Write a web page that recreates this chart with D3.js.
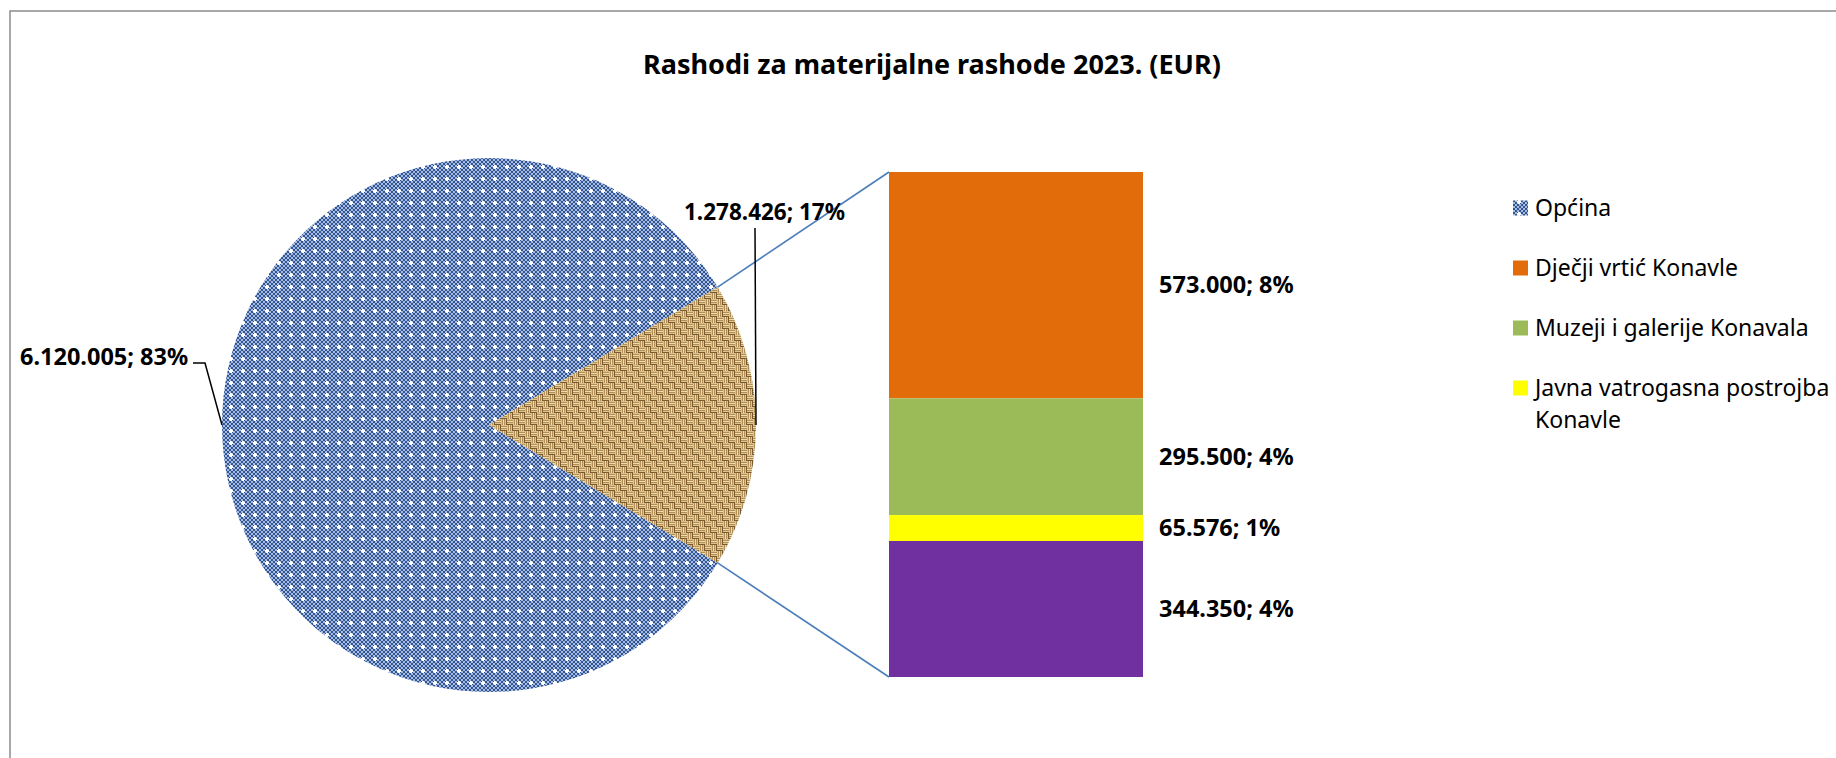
<!DOCTYPE html>
<html>
<head>
<meta charset="utf-8">
<script src="https://cdnjs.cloudflare.com/ajax/libs/d3/7.8.5/d3.min.js"></script>
<style>
  html, body { margin: 0; padding: 0; background: #fff; }
  svg { display: block; font-family: "Noto Sans", "Open Sans", sans-serif; }
</style>
</head>
<body>
<div id="chart"></div>
<script>
// data
const pieNames = ["Općina", "Ostali"];
const pieValues = [6120005, 1278426];
const piePct = [83, 17];

const barNames = ["Dječji vrtić Konavle", "Muzeji i galerije Konavala", "Javna vatrogasna postrojba Konavle", ""];
const barValues = [573000, 295500, 65576, 344350];
const barPct = [8, 4, 1, 4];
const barColors = ["#E36C0A", "#9BBB59", "#FFFF00", "#7030A0"];

const title = "Rashodi za materijalne rashode 2023. (EUR)";

const W = 1836, H = 758;
const hr = d3.formatLocale({decimal: ",", thousands: ".", grouping: [3], currency: ["", ""]});
const fmt = hr.format(",d");

const svg = d3.select("#chart").append("svg")
    .attr("width", W)
    .attr("height", H);

// patterns
const defs = svg.append("defs");

const dots = defs.append("pattern")
    .attr("id", "dots")
    .attr("patternUnits", "userSpaceOnUse")
    .attr("width", 12).attr("height", 12);
dots.append("rect").attr("width", 12).attr("height", 12).attr("fill", "#fff");
for (let i = 0; i < 6; i++) {
    for (let j = 0; j < 6; j++) {
        dots.append("rect").attr("x", i * 2).attr("y", j * 2)
            .attr("width", 2).attr("height", 2)
            .attr("fill", (i + j) % 2 === 0 ? "#2F5597" : "#A9BCDD");
    }
}
dots.append("rect").attr("x", 4).attr("y", 5).attr("width", 4).attr("height", 2).attr("fill", "#fff");
dots.append("rect").attr("x", 5).attr("y", 4).attr("width", 2).attr("height", 4).attr("fill", "#fff");

// burlap weave
const weave = defs.append("pattern")
    .attr("id", "weave")
    .attr("patternUnits", "userSpaceOnUse")
    .attr("width", 12).attr("height", 12);
weave.append("rect").attr("width", 12).attr("height", 12).attr("fill", "#C7A56B");
const blocks = [[0, 0, "h"], [6, 0, "v"], [0, 6, "v"], [6, 6, "h"]];
blocks.forEach(([bx, by, dir]) => {
    for (let k = 0; k < 3; k++) {
        const light = k === 1 ? "#F0DCA8" : "#DEC48C";
        const dark = k === 2 ? "#7A5A2E" : "#B08E56";
        if (dir === "h") {
            weave.append("rect").attr("x", bx).attr("y", by + k * 2)
                .attr("width", 6).attr("height", 1).attr("fill", light);
            weave.append("rect").attr("x", bx).attr("y", by + k * 2 + 1)
                .attr("width", 6).attr("height", 1).attr("fill", dark);
        } else {
            weave.append("rect").attr("x", bx + k * 2).attr("y", by)
                .attr("width", 1).attr("height", 6).attr("fill", light);
            weave.append("rect").attr("x", bx + k * 2 + 1).attr("y", by)
                .attr("width", 1).attr("height", 6).attr("fill", dark);
        }
    }
});

// frame
svg.append("rect")
    .attr("x", 10).attr("y", 11)
    .attr("width", W + 20).attr("height", H + 20)
    .attr("fill", "none")
    .attr("stroke", "#8C8C8C")
    .attr("stroke-width", 1.5);

// title
svg.append("text")
    .attr("x", 932).attr("y", 74)
    .attr("text-anchor", "middle")
    .style("font-weight", "bold")
    .style("font-size", "27px")
    .text(title);

// pie
const cx = 489, cy = 425, r = 267;
const total = d3.sum(pieValues);
const otherAngle = 2 * Math.PI * pieValues[1] / total;
const start = Math.PI / 2 + otherAngle / 2;

const pie = d3.pie().sort(null).startAngle(start).endAngle(start + 2 * Math.PI);
const arc = d3.arc().innerRadius(0).outerRadius(r);
const arcs = pie(pieValues);

const g = svg.append("g").attr("transform", `translate(${cx},${cy})`);
g.selectAll("path.slice")
    .data(arcs)
    .join("path")
    .attr("class", "slice")
    .attr("d", arc)
    .attr("fill", (d, i) => i === 0 ? "url(#dots)" : "url(#weave)");

// bar of pie
const barX = 889, barW = 254, barTop = 172, barBottom = 677;
const y = d3.scaleLinear().domain([0, pieValues[1]]).range([barTop, barBottom]);
const cum = d3.cumsum(barValues);
const segs = barValues.map((v, i) => ({name: barNames[i], value: v, pct: barPct[i], color: barColors[i], y0: cum[i] - v, y1: cum[i]}));

svg.selectAll("rect.seg")
    .data(segs)
    .join("rect")
    .attr("class", "seg")
    .attr("x", barX).attr("width", barW)
    .attr("y", d => y(d.y0))
    .attr("height", d => y(d.y1) - y(d.y0))
    .attr("fill", d => d.color);

svg.selectAll("text.seglab")
    .data(segs)
    .join("text")
    .attr("class", "seglab")
    .attr("x", barX + barW + 16)
    .attr("y", d => (y(d.y0) + y(d.y1)) / 2)
    .attr("dy", "0.35em")
    .style("font-weight", "bold")
    .style("font-size", "23.5px")
    .text(d => fmt(d.value) + "; " + d.pct + "%");

// connector lines from the "other" slice to the bar
const oa = arcs[1];
const pt = a => [cx + r * Math.sin(a), cy - r * Math.cos(a)];
const pUpper = pt(oa.startAngle), pLower = pt(oa.endAngle);
svg.append("line")
    .attr("x1", pUpper[0]).attr("y1", pUpper[1])
    .attr("x2", barX).attr("y2", barTop)
    .attr("stroke", "#4A7EBB").attr("stroke-width", 1.6);
svg.append("line")
    .attr("x1", pLower[0]).attr("y1", pLower[1])
    .attr("x2", barX).attr("y2", barBottom)
    .attr("stroke", "#4A7EBB").attr("stroke-width", 1.6);

// pie labels with leader lines
svg.append("text")
    .attr("x", 20).attr("y", 357).attr("dy", "0.35em")
    .style("font-weight", "bold").style("font-size", "23.5px")
    .text(fmt(pieValues[0]) + "; " + piePct[0] + "%");
svg.append("polyline")
    .attr("points", [[193, 363], [205, 363], [cx - r, cy]].join(" "))
    .attr("fill", "none").attr("stroke", "#000").attr("stroke-width", 1.5);

svg.append("text")
    .attr("x", 684).attr("y", 212).attr("dy", "0.35em")
    .style("font-weight", "bold").style("font-size", "22.5px")
    .text(fmt(pieValues[1]) + "; " + piePct[1] + "%");
svg.append("line")
    .attr("x1", 755).attr("y1", 228)
    .attr("x2", cx + r).attr("y2", cy)
    .attr("stroke", "#000").attr("stroke-width", 1.5);

// legend
const legendItems = [
    {name: pieNames[0], fill: "url(#dots)", lines: ["Općina"]},
    {name: barNames[0], fill: barColors[0], lines: ["Dječji vrtić Konavle"]},
    {name: barNames[1], fill: barColors[1], lines: ["Muzeji i galerije Konavala"]},
    {name: barNames[2], fill: barColors[2], lines: ["Javna vatrogasna postrojba", "Konavle"]}
];
const lg = svg.append("g").attr("transform", "translate(1513,208)");
const li = lg.selectAll("g.item")
    .data(legendItems)
    .join("g")
    .attr("class", "item")
    .attr("transform", (d, i) => `translate(0,${i * 60})`);
li.append("rect")
    .attr("x", 0).attr("y", -7.5)
    .attr("width", 15).attr("height", 15)
    .attr("fill", d => d.fill);
li.append("text")
    .style("font-size", "23px")
    .selectAll("tspan")
    .data(d => d.lines)
    .join("tspan")
    .attr("x", 22)
    .attr("y", (d, i) => i * 32)
    .attr("dy", "0.35em")
    .text(d => d);
</script>
</body>
</html>
